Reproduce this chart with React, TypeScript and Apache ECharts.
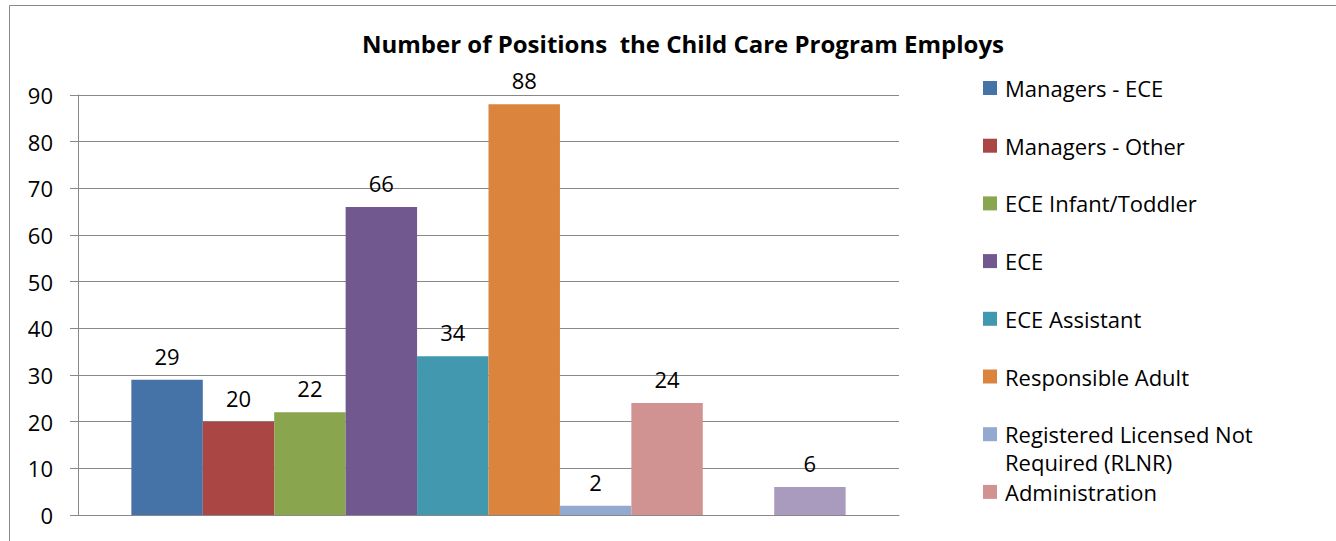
import React, { useEffect, useRef } from "react";
import * as echarts from "echarts";

const seriesNames = [
  "Managers - ECE",
  "Managers - Other",
  "ECE Infant/Toddler",
  "ECE",
  "ECE Assistant",
  "Responsible Adult",
  "Registered Licensed Not Required (RLNR)",
  "Administration",
  "Other 1",
  "Other 2",
];
const seriesValues: (number | null)[] = [29, 20, 22, 66, 34, 88, 2, 24, null, 6];
const seriesColors = [
  "#4572A7",
  "#AA4643",
  "#89A54E",
  "#71588F",
  "#4198AF",
  "#DB843D",
  "#93A9CF",
  "#D19392",
  "#B9CD96",
  "#A99BBD",
];
const legendNames = seriesNames.slice(0, 8);
const categories = [""];
const titleText = "Number of Positions  the Child Care Program Employs";

const FONT = "'Open Sans', sans-serif";
const FS = 22;

export default function App() {
  const ref = useRef<HTMLDivElement>(null);
  useEffect(() => {
    if (!ref.current) return;
    const chart = echarts.init(ref.current, null, { renderer: "svg" });
    chart.setOption({
      animation: false,
      textStyle: { fontFamily: FONT },
      title: {
        text: titleText,
        left: 683,
        textAlign: "center",
        top: 31,
        padding: 0,
        textStyle: { fontFamily: FONT, fontWeight: "bold", fontSize: 24, color: "#000" },
      },
      legend: {
        data: legendNames,
        orient: "vertical",
        left: 983,
        top: 76,
        padding: 0,
        itemWidth: 14,
        itemHeight: 14,
        itemGap: 33.7,
        icon: "rect",
        formatter: (name: string) =>
          name === "Registered Licensed Not Required (RLNR)" ? "Registered Licensed Not" : name,
        textStyle: { fontFamily: FONT, fontSize: FS, color: "#000", lineHeight: 24, padding: [0, 0, 0, 3] },
      },
      graphic: [
        {
          type: "rect",
          shape: { x: 9.5, y: 5.5, width: 1400, height: 600 },
          style: { fill: "none", stroke: "#888", lineWidth: 1 },
          silent: true,
        },
        {
          type: "text",
          x: 1005,
          y: 462,
          style: {
            text: "Required (RLNR)",
            font: `${FS}px ${FONT}`,
            fill: "#000",
            lineHeight: 22,
            verticalAlign: "middle",
          },
        },
      ],
      grid: { left: 78, right: 437, top: 95, bottom: 26, containLabel: false },
      xAxis: {
        type: "category",
        data: categories,
        axisLine: { show: true, lineStyle: { color: "#888", width: 1 } },
        axisTick: { show: false },
        axisLabel: { show: false },
      },
      yAxis: {
        type: "value",
        min: 0,
        max: 90,
        interval: 10,
        axisLine: { show: true, lineStyle: { color: "#888" } },
        axisTick: { show: true, length: 8, lineStyle: { color: "#888" } },
        axisLabel: { fontSize: FS, color: "#000", margin: 25, fontFamily: FONT },
        splitLine: { show: true, lineStyle: { color: "#888", width: 1 } },
      },
      series: seriesNames.map((name, i) => ({
        name,
        type: "bar",
        data: [seriesValues[i]],
        barGap: "0%",
        barCategoryGap: "13%",
        itemStyle: { color: seriesColors[i] },
        label: {
          show: seriesValues[i] !== null,
          position: "top",
          distance: 13,
          fontSize: FS,
          color: "#000",
          fontFamily: FONT,
        },
      })),
    });
    return () => chart.dispose();
  }, []);
  return (
    <div
      ref={ref}
      style={{ position: "fixed", left: 0, top: 0, width: 1336, height: 541, background: "#fff" }}
    />
  );
}
